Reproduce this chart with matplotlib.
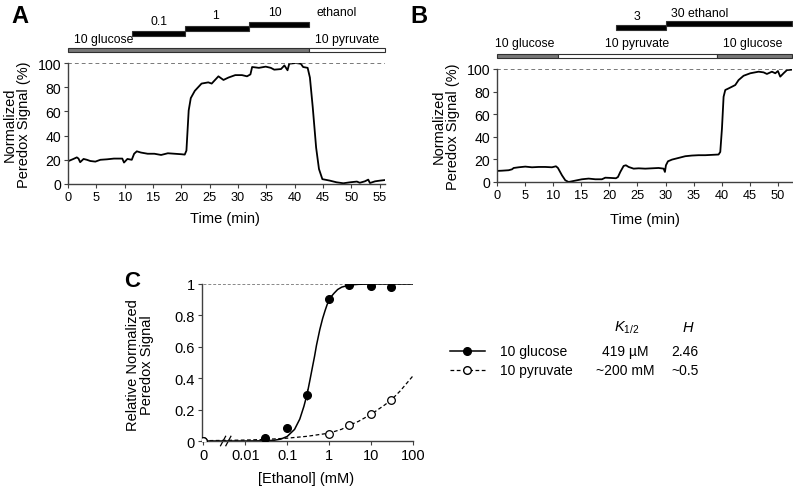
import numpy as np
import matplotlib
matplotlib.use("Agg")
import matplotlib.pyplot as plt
from matplotlib.lines import Line2D
from matplotlib.patches import Rectangle

plt.rcParams['font.family'] = ['Liberation Sans', 'DejaVu Sans']
plt.rcParams['mathtext.fontset'] = 'custom'
plt.rcParams['mathtext.rm'] = 'Liberation Sans'
plt.rcParams['mathtext.it'] = 'Liberation Sans:italic'

# ---- panel A trace (time in min, signal in %)
a_time = [0, 0.95, 1.55, 1.85, 2.14, 2.74, 3.33, 3.93, 4.82, 5.71, 6.9, 8.1, 9.58, 9.88,
          10.48, 11.25, 11.67, 12.14, 12.86, 14.05, 15.24, 16.43, 17.62, 18.81, 20.0, 20.6,
          20.9, 21.3, 21.67, 22.38, 23.57, 24.76, 25.36, 26.55, 27.44, 28.33, 29.52, 30.71,
          31.6, 32.2, 32.5, 33.7, 34.9, 35.8, 36.4, 37.6, 38.2, 38.75, 39.05, 40.2, 41.1,
          41.5, 42.3, 42.7, 43.2, 43.8, 44.3, 44.9, 46.2, 47.4, 48.6, 49.8, 51.0, 51.5,
          52.4, 53.0, 53.3, 54.2, 55.1, 56.0]
a_signal = [18.8, 20.7, 22, 21, 18, 20.7, 20, 19, 18.5, 20, 20.4, 21, 21, 17.7,
            20.7, 20, 25, 27, 26, 25, 25, 24, 25.4, 25, 24.6, 24.3,
            27.6, 60.8, 71, 77, 83, 84, 83, 89, 86, 88, 90, 90,
            89, 90.6, 96.7, 96, 97, 96, 94.5, 95, 98, 94, 99.4, 100, 99.4,
            96.7, 96, 88, 63.5, 30, 12.4, 4, 2.8, 1.4, 0.6, 1.4, 2, 1,
            2.2, 3.6, 0.8, 2.2, 2.8, 3.3]

# ---- panel B trace
b_time = [0, 0.89, 2.08, 2.67, 2.97, 3.86, 5.04, 6.23, 7.41, 8.6, 9.79, 10.5, 10.85,
          11.57, 12.16, 12.75, 13.35, 14.23, 15.12, 16.31, 17.5, 18.68, 19.28, 20.17,
          21.17, 21.53, 21.95, 22.54, 22.95, 23.43, 24.32, 25.21, 26.39, 27.58, 28.77,
          29.66, 29.89, 30.07, 30.43, 31.14, 32.33, 33.51, 34.7, 35.88, 37.07, 38.26,
          39.44, 39.74, 40.04, 40.33, 40.63, 41.22, 41.82, 42.41, 43.0, 43.89, 45.08,
          46.56, 47.45, 48.04, 48.93, 49.53, 50.0, 50.41, 51.0, 51.6, 52.49]
b_signal = [9.8, 10, 10.4, 11.2, 12.4, 13, 13.6, 13, 13.3, 13.3, 13, 13.9, 12.4,
            5.9, 1.5, 0, 0.6, 1.5, 2.4, 3, 2.4, 2.4, 3.8, 3.6,
            3.3, 4.4, 8.9, 14.2, 14.8, 13.3, 11.8, 12.1, 11.8, 12.1, 12.4,
            11.8, 8.9, 14.8, 18.3, 19.8, 21.3, 22.8, 23.4, 23.7, 23.7, 24,
            24.3, 26.6, 47.3, 75.4, 81.4, 82.8, 84.3, 85.8, 90.2, 94, 96.2,
            97.6, 97, 95.6, 97.6, 96.2, 98.2, 93.2, 96.2, 99, 99.4]

# ---- panel C dose response (ethanol mM)
glu_conc = [0, 0.03, 0.1, 0.3, 1, 3, 10, 30]
glu_resp = [0, 0.02, 0.08, 0.295, 0.905, 0.995, 0.985, 0.98]
glu_err = [0, 0, 0, 0.035, 0, 0, 0, 0]
pyr_conc = [0, 1, 3, 10, 30]
pyr_resp = [0, 0.045, 0.105, 0.17, 0.26]
glu_fit_x = [0, 0.01, 0.03, 0.05, 0.07, 0.1, 0.15, 0.2, 0.25, 0.3, 0.35, 0.4, 0.45, 0.5,
             0.6, 0.7, 0.8, 0.9, 1.0, 1.15, 1.3, 1.6, 2, 3, 5, 10, 100]
glu_fit_y = [0, 0.0001, 0.0015, 0.005, 0.012, 0.029, 0.074, 0.14, 0.22, 0.30, 0.39, 0.47,
             0.54, 0.61, 0.71, 0.78, 0.83, 0.87, 0.895, 0.923, 0.94, 0.965, 0.98, 0.993,
             0.998, 1.0, 1.0]
pyr_fit_x = [0, 0.01, 0.03, 0.1, 0.3, 1, 2, 3, 5, 10, 20, 30, 50, 100]
pyr_fit_y = [0.002, 0.006, 0.01, 0.018, 0.03, 0.05, 0.075, 0.1, 0.125, 0.17, 0.225, 0.26,
             0.32, 0.415]
c_ticks = [0, 0.01, 0.1, 1, 10, 100]
c_ticklabels = ['0', '0.01', '0.1', '1', '10', '100']
ZERO_POS = 0.001  # where "0" sits on the broken log axis

def zpos(vals):
    return [ZERO_POS if v == 0 else v for v in vals]

fig = plt.figure(figsize=(7.93, 4.89), dpi=100)
SPINE = '#404040'

def style_axes(ax):
    for s in ['top', 'right']:
        ax.spines[s].set_visible(False)
    for s in ['left', 'bottom']:
        ax.spines[s].set_color(SPINE)
        ax.spines[s].set_linewidth(1.0)
    ax.tick_params(direction='out', length=3, width=0.8, color=SPINE, pad=2)
    ax.tick_params(axis='x', labelsize=9.2)
    ax.tick_params(axis='y', labelsize=10.2)

def solution_bar(ax, x0, x1, y, h, fc):
    ax.add_patch(Rectangle((x0, y - h / 2), x1 - x0, h, transform=ax.get_xaxis_transform(),
                           facecolor=fc, edgecolor='#303030', linewidth=0.8, clip_on=False))

def bar_label(ax, x, y, s, ha='center'):
    ax.text(x, y, s, transform=ax.get_xaxis_transform(), fontsize=8.8, ha=ha, va='center')

# ---------------- Panel A
axA = fig.add_axes([0.0858, 0.6217, 0.40, 0.2474])
axA.plot(a_time, a_signal, color='black', linewidth=1.3)
axA.axhline(100, color='#555555', linestyle=(0, (2.5, 2)), linewidth=1.1)
axA.set_xlim(0, 56)
axA.set_ylim(0, 100)
axA.set_xticks(range(0, 56, 5))
axA.set_yticks(range(0, 101, 20))
style_axes(axA)
axA.set_xlabel('Time (min)', fontsize=10.5)
axA.xaxis.set_label_coords(0.495, -0.22)
axA.set_ylabel('Normalized\nPeredox Signal (%)', fontsize=10.5, linespacing=1.0)
axA.yaxis.set_label_coords(-0.117, 0.5)
solution_bar(axA, 0, 42.5, 1.107, 0.035, '#777777')
solution_bar(axA, 42.5, 56, 1.107, 0.035, 'white')
solution_bar(axA, 11.3, 20.6, 1.244, 0.042, 'black')
solution_bar(axA, 20.6, 32.0, 1.285, 0.042, 'black')
solution_bar(axA, 32.0, 42.5, 1.322, 0.042, 'black')
bar_label(axA, 1.0, 1.198, '10 glucose', ha='left')
bar_label(axA, 43.6, 1.198, '10 pyruvate', ha='left')
bar_label(axA, 16.0, 1.35, '0.1')
bar_label(axA, 26.0, 1.393, '1')
bar_label(axA, 36.6, 1.421, '10')
bar_label(axA, 43.8, 1.424, 'ethanol', ha='left')
fig.text(0.014, 0.99, 'A', fontsize=17, fontweight='bold', va='top')

# ---------------- Panel B
axB = fig.add_axes([0.6267, 0.6258, 0.372, 0.2311])
axB.plot(b_time, b_signal, color='black', linewidth=1.3)
axB.axhline(100, color='#555555', linestyle=(0, (2.5, 2)), linewidth=1.1)
axB.set_xlim(0, 52.5)
axB.set_ylim(0, 100)
axB.set_xticks(range(0, 51, 5))
axB.set_yticks(range(0, 101, 20))
style_axes(axB)
axB.set_xlabel('Time (min)', fontsize=10.5)
axB.xaxis.set_label_coords(0.5, -0.27)
axB.set_ylabel('Normalized\nPeredox Signal (%)', fontsize=10.5, linespacing=1.0)
axB.yaxis.set_label_coords(-0.125, 0.5)
solution_bar(axB, 0, 10.9, 1.115, 0.037, '#777777')
solution_bar(axB, 10.9, 39.1, 1.115, 0.037, 'white')
solution_bar(axB, 39.1, 52.5, 1.115, 0.037, '#777777')
solution_bar(axB, 21.2, 30.0, 1.37, 0.045, 'black')
solution_bar(axB, 30.0, 52.5, 1.405, 0.045, 'black')
bar_label(axB, 5.0, 1.23, '10 glucose')
bar_label(axB, 25.0, 1.23, '10 pyruvate')
bar_label(axB, 45.5, 1.23, '10 glucose')
bar_label(axB, 25.0, 1.469, '3')
bar_label(axB, 36.0, 1.496, '30 ethanol')
fig.text(0.518, 0.99, 'B', fontsize=17, fontweight='bold', va='top')

# ---------------- Panel C
axC = fig.add_axes([0.2547, 0.0961, 0.2661, 0.3211])
axC.set_xscale('log')
axC.plot([ZERO_POS, 100], [1, 1], color='#888888', linestyle=(0, (3, 2)), linewidth=0.7)
axC.plot(zpos(glu_fit_x), glu_fit_y, color='black', linewidth=1.1)
axC.plot(zpos(pyr_fit_x), pyr_fit_y, color='black', linewidth=0.9, linestyle=(0, (3, 2)))
axC.errorbar(zpos(glu_conc), glu_resp, yerr=glu_err, fmt='o', color='black',
             markersize=5.5, elinewidth=0.8, capsize=0, zorder=4)
axC.plot(zpos(pyr_conc), pyr_resp, 'o', markerfacecolor='white', markeredgecolor='black',
         markersize=5.5, markeredgewidth=0.9, zorder=5)
axC.set_xlim(ZERO_POS * 0.93, 100)
axC.set_ylim(0, 1)
axC.set_xticks(zpos(c_ticks))
axC.set_xticklabels(c_ticklabels)
axC.xaxis.set_minor_locator(matplotlib.ticker.NullLocator())
axC.set_yticks([0, 0.2, 0.4, 0.6, 0.8, 1])
axC.set_yticklabels(['0', '0.2', '0.4', '0.6', '0.8', '1'])
style_axes(axC)
axC.tick_params(labelsize=10.5)
axC.set_xlabel('[Ethanol] (mM)', fontsize=10.5)
axC.xaxis.set_label_coords(0.495, -0.19)
axC.set_ylabel('Relative Normalized\nPeredox Signal', fontsize=10.5, linespacing=1.0)
axC.yaxis.set_label_coords(-0.225, 0.49)
# axis break marks
for dx in (0.10, 0.125):
    axC.plot([dx - 0.012, dx + 0.012], [-0.03, 0.03], transform=axC.transAxes,
             color='black', linewidth=0.9, clip_on=False)
fig.text(0.166, 0.424, 'C', fontsize=16, fontweight='bold', va='center', ha='center')

# legend and parameter table
W, H = 793.0, 489.0
rows = [(352, '10 glucose', '-', 'black', '419 µM', '2.46'),
        (371, '10 pyruvate', (0, (3, 2)), 'white', '~200 mM', '~0.5')]
for ypx, lab, ls, mfc, khalf, hill in rows:
    yf = 1 - ypx / H
    fig.add_artist(Line2D([450 / W, 467 / W, 485 / W], [yf, yf, yf], linestyle=ls,
                          color='black', linewidth=1.1 if ls == '-' else 0.9,
                          marker='o', markevery=[1], markersize=5.5,
                          markerfacecolor=mfc, markeredgecolor='black'))
    fig.text(500 / W, yf, lab, fontsize=10, va='center', ha='left')
    fig.text(625 / W, yf, khalf, fontsize=10, va='center', ha='center')
    fig.text(685 / W, yf, hill, fontsize=10, va='center', ha='center')
fig.text(627 / W, 1 - 328 / H, r'$K_{\mathit{1/2}}$', fontsize=10.5, va='center', ha='center')
fig.text(688 / W, 1 - 328 / H, 'H', fontsize=10.5, va='center', ha='center', style='italic')

fig.savefig('out.png', dpi=100)
